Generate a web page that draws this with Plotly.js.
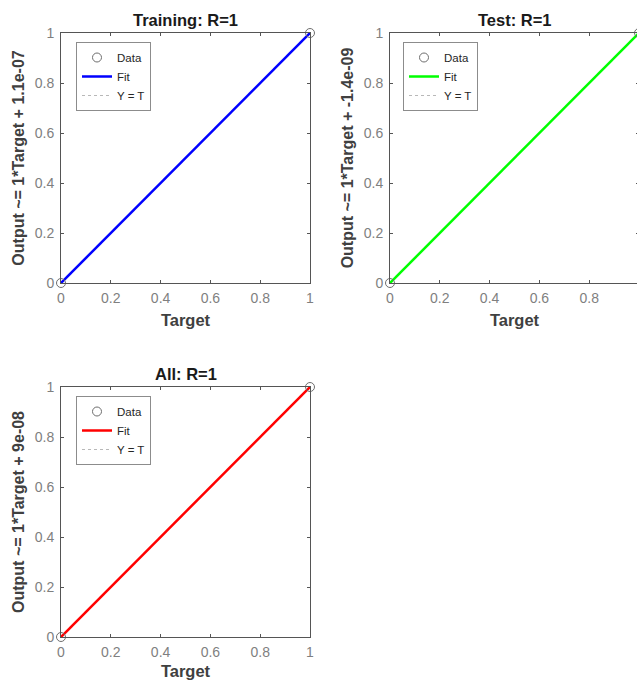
<!DOCTYPE html>
<html><head><meta charset="utf-8">
<script src="https://cdn.plot.ly/plotly-3.0.1.min.js"></script>
<style>html,body{margin:0;padding:0;overflow:hidden;background:#fff}#chart{width:640px;height:680px}</style>
</head><body><div id="chart"></div><script>
// ---- data ----
const panelNames = ['Training', 'Test', 'All'];
const rValues = ['1', '1', '1'];
const yTitles = ['Output ~= 1*Target + 1.1e-07', 'Output ~= 1*Target + -1.4e-09', 'Output ~= 1*Target + 9e-08'];
const xTitle = 'Target';
const targetTraining = [0, 1];
const outputTraining = [0, 1];
const targetTest = [0, 1];
const outputTest = [0, 1];
const targetAll = [0, 1];
const outputAll = [0, 1];
const fitXTraining = [0, 1];
const fitYTraining = [0, 1];
const fitXTest = [0, 1];
const fitYTest = [0, 1];
const fitXAll = [0, 1];
const fitYAll = [0, 1];
const identityX = [0, 1];
const identityY = [0, 1];
const tickVals = [0, 0.2, 0.4, 0.6, 0.8, 1];
const tickText = ['0', '0.2', '0.4', '0.6', '0.8', '1'];
const legendLabels = ['Data', 'Fit', 'Y = T'];

// ---- layout geometry ----
const W = 640, H = 680;
const pxX = [[61, 310], [390, 639], [61, 310]];
const pxY = [[33, 283], [33, 283], [387, 637]];
const legendPos = [[76, 42], [403, 42], [76, 396]];
const fitColors = ['#0000ff', '#00ff00', '#ff0000'];
const dataSets = [
  [targetTraining, outputTraining, fitXTraining, fitYTraining],
  [targetTest, outputTest, fitXTest, fitYTest],
  [targetAll, outputAll, fitXAll, fitYAll]
];
const FONT = 'Liberation Sans, Arial, Helvetica, sans-serif';

const traces = [];
const layout = {
  width: W, height: H,
  margin: {l: 0, r: 0, t: 0, b: 0},
  paper_bgcolor: '#fff', plot_bgcolor: '#fff',
  font: {family: FONT},
  annotations: [],
  showlegend: true
};

for (let i = 0; i < 3; i++) {
  const s = i === 0 ? '' : String(i + 1);
  const xa = 'x' + s, ya = 'y' + s;
  const lg = 'legend' + s;
  const [tx, ty, fx, fy] = dataSets[i];
  traces.push({x: identityX, y: identityY, xaxis: xa, yaxis: ya, mode: 'lines', name: legendLabels[2],
    line: {color: '#a6a6a6', width: 0.8, dash: 'dot'}, legend: lg, legendrank: 3, hoverinfo: 'skip'});
  traces.push({x: fx, y: fy, xaxis: xa, yaxis: ya, mode: 'lines', name: legendLabels[1],
    line: {color: fitColors[i], width: 2.5}, legend: lg, legendrank: 2, cliponaxis: false});
  traces.push({x: tx, y: ty, xaxis: xa, yaxis: ya, mode: 'markers', name: legendLabels[0],
    marker: {symbol: 'circle-open', size: 9, color: '#6e6e6e', line: {width: 1}}, legend: lg, legendrank: 1, cliponaxis: false});

  const axBase = {
    range: [0, 1], showgrid: false, zeroline: false, showline: true, linecolor: '#555', linewidth: 1,
    mirror: 'ticks', ticks: 'inside', ticklen: 3, tickcolor: '#555', tickwidth: 1,
    tickvals: tickVals, ticktext: tickText,
    tickfont: {family: FONT, size: 14, color: '#7f7f7f'}
  };
  layout['xaxis' + s] = Object.assign({}, axBase, {
    domain: [pxX[i][0] / W, pxX[i][1] / W], anchor: ya, ticklabelstandoff: 2,
    title: {text: xTitle, font: {family: FONT, size: 16.5, weight: 'bold', color: '#404040'}, standoff: 9}
  });
  layout['yaxis' + s] = Object.assign({}, axBase, {
    domain: [(H - pxY[i][1]) / H, (H - pxY[i][0]) / H], anchor: xa, ticklabelstandoff: 3,
    title: {text: yTitles[i], font: {family: FONT, size: 16, weight: 'bold', color: '#404040'}, standoff: 6}
  });
  layout[lg] = {
    x: legendPos[i][0] / W, y: (H - legendPos[i][1]) / H, xanchor: 'left', yanchor: 'top',
    bgcolor: '#fff', bordercolor: '#8c8c8c', borderwidth: 1,
    font: {family: FONT, size: 11.5, color: '#262626'}, tracegroupgap: 0, itemwidth: 30
  };
  layout.annotations.push({
    text: panelNames[i] + ': R=' + rValues[i], xref: 'paper', yref: 'paper',
    x: (pxX[i][0] + pxX[i][1]) / 2 / W, y: (H - pxY[i][0]) / H, xanchor: 'center', yanchor: 'bottom',
    yshift: 2, showarrow: false, font: {family: FONT, size: 16.5, weight: 'bold', color: '#1a1a1a'}
  });
}

Plotly.newPlot('chart', traces, layout, {displayModeBar: false, responsive: false});
</script></body></html>
